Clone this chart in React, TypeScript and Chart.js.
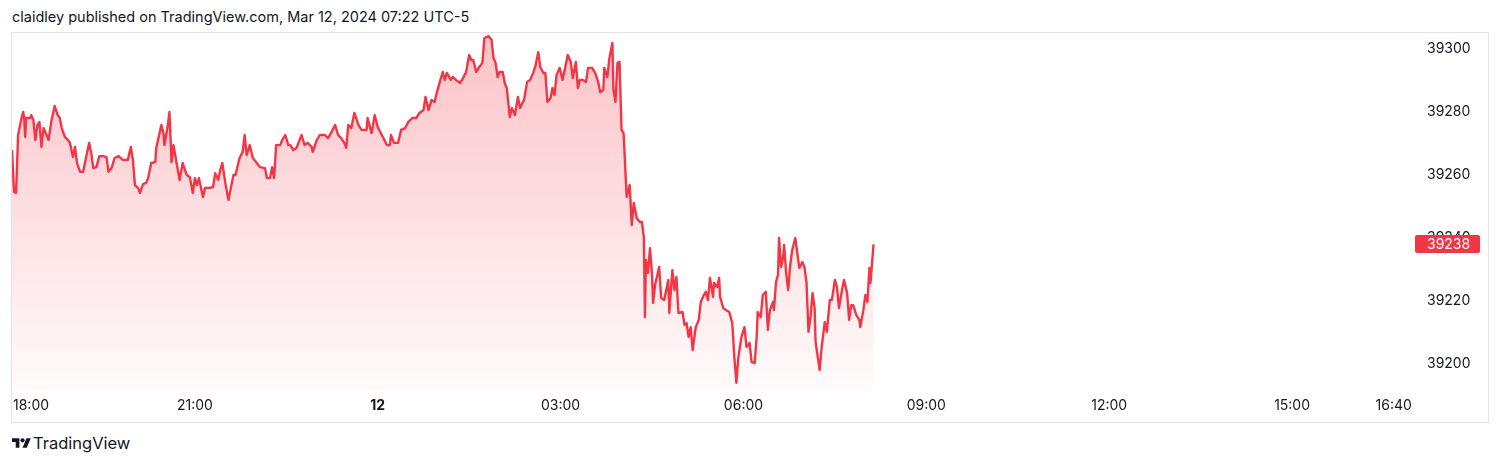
import React, { useEffect, useRef } from "react";
import { Chart, registerables } from "chart.js";

Chart.register(...registerables);

// minutes after 18:00 (Mar 11) and closing prices
const times = [
  0, 2, 4, 6, 9, 11, 12, 13, 14, 18, 19, 21, 23, 25, 27, 29, 31, 34, 36, 39,
  42, 45, 47, 49, 52, 55, 57, 60, 62, 64, 67, 70, 73, 76, 78, 80, 83, 86, 90, 93,
  95, 98, 101, 105, 109, 114, 117, 119, 121, 124, 126, 129, 132, 134, 137, 141, 142, 147, 149, 150,
  153, 155, 157, 159, 162, 165, 168, 172, 175, 178, 180, 182, 184, 188, 190, 195, 198, 200, 203, 205,
  207, 210, 213, 215, 218, 220, 224, 227, 229, 231, 234, 237, 241, 244, 249, 251, 254, 256, 258, 260,
  264, 266, 269, 272, 274, 277, 280, 282, 285, 288, 291, 295, 296, 300, 303, 308, 311, 314, 318, 321,
  324, 327, 329, 331, 334, 337, 341, 344, 349, 350, 354, 357, 360, 364, 369, 372, 373, 376, 380, 383,
  387, 390, 394, 398, 401, 405, 407, 410, 413, 416, 418, 421, 424, 426, 428, 432, 434, 437, 441, 443,
  447, 450, 452, 454, 457, 460, 463, 465, 469, 472, 474, 476, 478, 480, 483, 485, 487, 490, 492, 495,
  498, 500, 504, 507, 510, 513, 515, 518, 520, 523, 525, 527, 530, 532, 534, 536, 539, 542, 544, 547,
  550, 552, 555, 557, 559, 562, 565, 567, 571, 574, 577, 579, 582, 583, 586, 588, 591, 592, 594, 596,
  598, 600, 602, 605, 608, 610, 612, 615, 618, 620, 622, 623, 624, 626, 628, 630, 631, 633, 637, 639,
  642, 646, 647, 650, 652, 654, 656, 660, 662, 664, 666, 668, 670, 673, 676, 678, 681, 683, 685, 687,
  690, 691, 694, 696, 697, 700, 703, 706, 709, 711, 713, 715, 718, 721, 723, 726, 728, 731, 733, 734,
  737, 739, 742, 744, 746, 749, 750, 752, 754, 755, 757, 759, 760, 762, 764, 766, 768, 771, 773, 775,
  778, 780, 782, 784, 786, 788, 790, 791, 795, 797, 800, 802, 805, 807, 810, 812, 814, 817, 819, 822,
  824, 826, 828, 831, 834, 835, 838, 840, 842, 844, 845, 848,
];

const prices = [
  39267.9, 39254.6, 39254.3, 39272.7, 39277.5, 39280, 39278.1, 39272.1, 39278.1, 39278.1, 39279, 39277.5, 39271.1, 39275.9, 39276.8, 39268.9, 39274.9, 39272.7, 39271.1, 39277.5,
  39281.9, 39279, 39278.1, 39274.9, 39272.1, 39271.1, 39270.2, 39265.7, 39268.9, 39263.8, 39261, 39261, 39265.7, 39270.2, 39267, 39262.2, 39262.5, 39266, 39266, 39265.7,
  39261, 39262.2, 39265.4, 39266, 39264.8, 39264.8, 39268.9, 39264.8, 39256.8, 39255.9, 39254.3, 39257.1, 39257.5, 39259, 39263.8, 39264.1, 39268.6, 39275.9, 39273.3, 39269.5,
  39274.9, 39280, 39264.1, 39269.5, 39263.8, 39258.4, 39263.8, 39260, 39259.4, 39254.3, 39259, 39256.8, 39259, 39253, 39255.9, 39255.9, 39256.2, 39260.6, 39258.4, 39261.6,
  39263.8, 39257.5, 39252.1, 39255.2, 39260, 39260, 39265.4, 39267.3, 39272.7, 39266.3, 39269.5, 39265.4, 39263.8, 39262.5, 39262.2, 39259, 39259, 39262.5, 39259, 39269.5,
  39269.5, 39271.1, 39272.7, 39269.5, 39269.5, 39267.9, 39268.6, 39270.2, 39272.7, 39269.5, 39270.2, 39268.9, 39267.3, 39271.1, 39272.7, 39272.7, 39271.7, 39273.3, 39275.9, 39272.7,
  39271.7, 39270.2, 39268.6, 39275.9, 39274.9, 39279.7, 39275.9, 39274.3, 39274.3, 39278.1, 39273.3, 39279, 39275.2, 39272.7, 39269.5, 39269.5, 39272.7, 39270.2, 39270.2, 39274.3,
  39274.9, 39276.8, 39278.1, 39278.1, 39279.7, 39280.6, 39284.8, 39280.6, 39283.8, 39283.2, 39286, 39289.5, 39292.7, 39290.2, 39292.4, 39290.2, 39291.1, 39290.2, 39289.2, 39290.2,
  39292.7, 39298.1, 39296.5, 39296.5, 39292.7, 39294.3, 39295.6, 39303.5, 39304.1, 39302.9, 39297.1, 39295.6, 39291.1, 39292.7, 39292.7, 39289.2, 39287.6, 39278.4, 39281.3, 39279,
  39284.8, 39281.3, 39283.8, 39289.5, 39290.2, 39292.4, 39294.3, 39299, 39294.3, 39292.4, 39292.4, 39283.2, 39284.4, 39287.6, 39285.4, 39291.7, 39294, 39290.2, 39293.3, 39298.1,
  39295.9, 39290.8, 39295.9, 39287.6, 39290.2, 39290.2, 39289.5, 39294, 39294, 39292.4, 39289.5, 39286.3, 39287, 39294, 39291.1, 39297.1, 39301.9, 39287, 39283.2, 39295.6,
  39295.9, 39274.3, 39273.3, 39253, 39256.8, 39244.1, 39251.1, 39246.3, 39245.1, 39245.1, 39240, 39214.9, 39233, 39228.9, 39236.8, 39228.3, 39219.4, 39225.1, 39230.8, 39221,
  39220.3, 39226.7, 39216.2, 39229.8, 39223.5, 39227.6, 39216.2, 39216.5, 39212.4, 39213, 39208.6, 39211.7, 39204.4, 39211.7, 39214, 39219.7, 39221.9, 39222.9, 39220.3, 39227.3,
  39221.3, 39225.7, 39224.4, 39227.3, 39221.3, 39217.8, 39217.1, 39216.5, 39213, 39202.2, 39194, 39202.2, 39208.6, 39211.7, 39205.4, 39206.7, 39200.6, 39200.3, 39208.6, 39216.5,
  39214.9, 39221.9, 39222.9, 39210.8, 39217.1, 39219.7, 39217.1, 39226, 39228.3, 39240, 39230.8, 39233.7, 39237.8, 39228.9, 39223.5, 39231.4, 39236.2, 39240, 39235.2, 39230.5,
  39232.4, 39230.8, 39226, 39210.2, 39214.9, 39222.5, 39217.8, 39207, 39198.1, 39205.4, 39213.3, 39210.2, 39220.3, 39220.3, 39226.7, 39224.4, 39217.8, 39223.5, 39226.7, 39222.5,
  39214, 39218.7, 39218.7, 39215.6, 39214, 39211.7, 39217.1, 39221.9, 39219.7, 39230.5, 39225.7, 39238,
];

const xTickMinutes = [0, 180, 360, 540, 720, 900, 1080, 1260, 1360];
const xTickLabels = ["18:00", "21:00", "12", "03:00", "06:00", "09:00", "12:00", "15:00", "16:40"];
const yTicks = [39200, 39220, 39240, 39260, 39280, 39300];
const lastPrice = 39238;

const RED = "#f23645";
const TEXT = "#131722";
const FONT = "Inter, 'Noto Sans', sans-serif";

export default function App() {
  const ref = useRef<HTMLCanvasElement>(null);

  useEffect(() => {
    const canvas = ref.current;
    if (!canvas) return;

    const labelPlugin = {
      id: "tvLabels",
      afterDraw(chart: any) {
        const { ctx, chartArea, scales } = chart;
        const xs = scales.x;
        const ys = scales.y;
        ctx.save();
        ctx.textBaseline = "middle";
        ctx.textAlign = "left";
        ctx.fillStyle = TEXT;
        xTickMinutes.forEach((m, i) => {
          const label = xTickLabels[i];
          ctx.font = (label === "12" ? "bold " : "") + "14px " + FONT;
          const px = xs.getPixelForValue(m);
          const w = ctx.measureText(label).width;
          let left = px - w / 2;
          if (left < chartArea.left + 1) left = chartArea.left + 1;
          ctx.fillText(label, left, chartArea.bottom + 16);
        });
        const py = ys.getPixelForValue(lastPrice);
        ctx.fillStyle = RED;
        const bx = chartArea.right + 1;
        const by = Math.round(py) - 9;
        ctx.beginPath();
        if ((ctx as any).roundRect) (ctx as any).roundRect(bx, by, 65, 18, 2);
        else ctx.rect(bx, by, 65, 18);
        ctx.fill();
        ctx.fillStyle = "#ffffff";
        ctx.font = "14px " + FONT;
        ctx.fillText(String(lastPrice), chartArea.right + 13, py + 0.5);
        ctx.restore();
      },
    };

    const chart = new Chart(canvas, {
      type: "line",
      data: {
        datasets: [
          {
            data: times.map((t, i) => ({ x: t, y: prices[i] })),
            borderColor: RED,
            borderWidth: 2.4,
            pointRadius: 0,
            tension: 0,
            borderJoinStyle: "round",
            fill: "start",
            backgroundColor: (c: any) => {
              const { chart } = c;
              const area = chart.chartArea;
              if (!area) return "rgba(242,54,69,0.15)";
              const g = chart.ctx.createLinearGradient(0, area.top, 0, area.bottom);
              g.addColorStop(0, "rgba(242,54,69,0.30)");
              g.addColorStop(1, "rgba(242,54,69,0.02)");
              return g;
            },
          },
        ],
      },
      options: {
        animation: false,
        responsive: false,
        maintainAspectRatio: false,
        layout: { padding: 0 },
        plugins: {
          legend: { display: false },
          tooltip: { enabled: false },
        },
        scales: {
          x: {
            type: "linear",
            min: 0,
            max: 1380,
            grid: { display: false, drawTicks: false, tickLength: 0 },
            border: { display: false },
            ticks: { display: false },
            afterFit: (s: any) => {
              s.height = 32;
              s.paddingLeft = 0;
              s.paddingRight = 0;
            },
          },
          y: {
            position: "right",
            min: 39191.75,
            max: 39305.08,
            grid: { display: false, drawTicks: false, tickLength: 0 },
            border: { display: false },
            afterBuildTicks: (s: any) => {
              s.ticks = yTicks.map((v) => ({ value: v }));
            },
            afterFit: (s: any) => {
              s.width = 74;
              s.paddingTop = 0;
              s.paddingBottom = 0;
            },
            ticks: {
              padding: 13,
              color: TEXT,
              font: { family: FONT, size: 14 },
              callback: (v: any) => String(v),
            },
          },
        },
      },
      plugins: [labelPlugin],
    });

    return () => chart.destroy();
  }, []);

  return (
    <div
      style={{
        position: "fixed",
        left: 0,
        top: 0,
        width: 1500,
        height: 465,
        background: "#ffffff",
        fontFamily: FONT,
        color: TEXT,
      }}
    >
      <div
        style={{
          position: "absolute",
          left: 12,
          top: 8,
          fontSize: 14.5,
          lineHeight: "17px",
          whiteSpace: "nowrap",
        }}
      >
        claidley published on TradingView.com, Mar 12, 2024 07:22 UTC-5
      </div>
      <div
        style={{
          position: "absolute",
          left: 11,
          top: 32,
          width: 1476,
          height: 389,
          border: "1px solid #e0e3eb",
        }}
      >
        <canvas ref={ref} width={1476} height={389} style={{ display: "block", width: 1476, height: 389 }} />
      </div>
      <div
        style={{
          position: "absolute",
          left: 12,
          top: 434,
          display: "flex",
          alignItems: "center",
          height: 18,
        }}
      >
        <svg width="19" height="15" viewBox="0 0 36 28" style={{ display: "block" }}>
          <path d="M14 22H7V11H0V4h14v18zM28 22h-8l7.5-18h8L28 22z" fill={TEXT} />
          <circle cx="20" cy="8" r="4" fill={TEXT} />
        </svg>
        <span style={{ marginLeft: 2, fontSize: 16.5, lineHeight: "18px" }}>TradingView</span>
      </div>
    </div>
  );
}
